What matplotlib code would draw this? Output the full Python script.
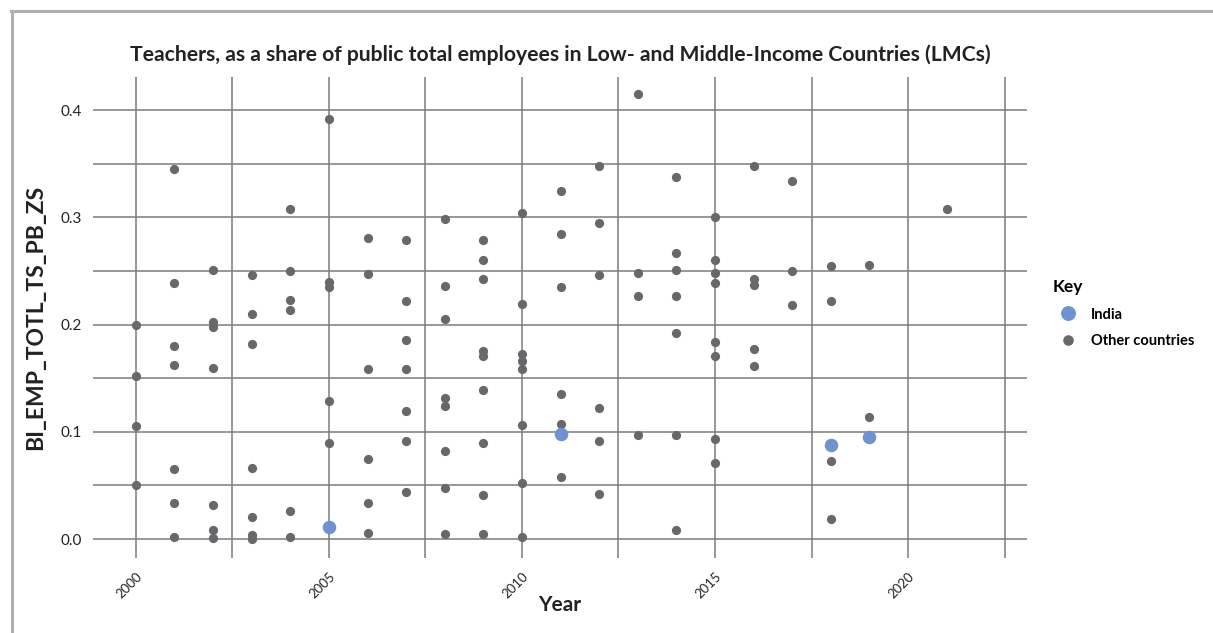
import matplotlib
matplotlib.use("Agg")
import matplotlib.pyplot as plt
from matplotlib.lines import Line2D
from matplotlib.ticker import MultipleLocator

plt.rcParams['font.family'] = ['Lato', 'DejaVu Sans']

# ---- data ----
other_years = (
    [2000] * 4 + [2001] * 7 + [2002] * 7 + [2003] * 7 + [2004] * 6 + [2005] * 5 +
    [2006] * 6 + [2007] * 7 + [2008] * 8 + [2009] * 9 + [2010] * 8 + [2011] * 6 +
    [2012] * 6 + [2013] * 4 + [2014] * 7 + [2015] * 8 + [2016] * 5 + [2017] * 3 +
    [2018] * 4 + [2019] * 2 + [2021] * 1
)
other_values = [
    0.200, 0.152, 0.105, 0.050,
    0.345, 0.239, 0.180, 0.162, 0.065, 0.034, 0.002,
    0.251, 0.202, 0.198, 0.160, 0.032, 0.008, 0.001,
    0.246, 0.210, 0.182, 0.066, 0.021, 0.004, 0.000,
    0.308, 0.250, 0.223, 0.214, 0.026, 0.002,
    0.392, 0.240, 0.235, 0.129, 0.090,
    0.281, 0.247, 0.159, 0.075, 0.034, 0.006,
    0.279, 0.222, 0.186, 0.159, 0.119, 0.091, 0.044,
    0.299, 0.236, 0.205, 0.132, 0.124, 0.082, 0.048, 0.005,
    0.279, 0.260, 0.243, 0.175, 0.171, 0.139, 0.090, 0.041, 0.005,
    0.304, 0.219, 0.173, 0.166, 0.159, 0.106, 0.052, 0.002,
    0.325, 0.285, 0.235, 0.135, 0.107, 0.058,
    0.348, 0.295, 0.246, 0.122, 0.091, 0.042,
    0.415, 0.248, 0.227, 0.097,
    0.338, 0.267, 0.251, 0.227, 0.192, 0.097, 0.008,
    0.300, 0.260, 0.248, 0.239, 0.184, 0.171, 0.093, 0.071,
    0.348, 0.243, 0.237, 0.177, 0.161,
    0.334, 0.250, 0.218,
    0.255, 0.222, 0.073, 0.019,
    0.256, 0.114,
    0.308,
]
india_years = [2005, 2011, 2018, 2019]
india_values = [0.011, 0.098, 0.088, 0.095]

title = "Teachers, as a share of public total employees in Low- and Middle-Income Countries (LMCs)"
x_label = "Year"
y_label = "BI_EMP_TOTL_TS_PB_ZS"
legend_title = "Key"
series_names = ["India", "Other countries"]

grey = "#68686c"
blue = "#6f93d0"
grid_c = "#7c7c7c"

fig = plt.figure(figsize=(12.13, 6.33), dpi=100)
ax = fig.add_axes([93 / 1213, 1 - 558 / 633, (1027 - 93) / 1213, (558 - 77) / 633])

ax.scatter(other_years, other_values, s=44, color=grey, zorder=3, linewidths=0)
ax.scatter(india_years, india_values, s=95, color=blue, zorder=4, linewidths=0)

ax.set_xlim(1998.89, 2023.08)
ax.set_ylim(-0.0177, 0.431)
ax.xaxis.set_major_locator(MultipleLocator(5))
ax.xaxis.set_minor_locator(MultipleLocator(2.5))
ax.yaxis.set_major_locator(MultipleLocator(0.1))
ax.yaxis.set_minor_locator(MultipleLocator(0.05))
ax.xaxis.set_major_formatter(plt.FuncFormatter(lambda v, p: f"{int(v)}" if 2000 <= v <= 2020 else ""))
ax.yaxis.set_major_formatter(plt.FuncFormatter(lambda v, p: f"{v:.1f}" if v >= -0.001 else ""))
ax.grid(True, which="both", color=grid_c, linewidth=1.1)
ax.set_axisbelow(True)
for s in ax.spines.values():
    s.set_visible(False)
ax.tick_params(which="both", length=0)
ax.tick_params(axis="y", labelsize=11, labelcolor="#222222", pad=8)
ax.tick_params(axis="x", labelsize=9.5, labelcolor="#222222", pad=9)
for lab in ax.get_xticklabels():
    lab.set_rotation(45)
    lab.set_ha("right")
    lab.set_rotation_mode("anchor")

ax.set_xlabel(x_label, fontsize=15, fontweight="bold", color="#222222", labelpad=-4)
ax.set_ylabel(y_label, fontsize=16.5, fontweight="bold", color="#222222", labelpad=10)
fig.text(560 / 1213, 1 - 55 / 633, title, ha="center", va="center",
         fontsize=15.2, fontweight="bold", color="#222222")

handles = [
    Line2D([], [], marker="o", linestyle="", markersize=9.7, color=blue),
    Line2D([], [], marker="o", linestyle="", markersize=6.6, color=grey),
]
leg = fig.legend(handles, series_names, title=legend_title, loc="upper left",
                 bbox_to_anchor=(1040 / 1213, 1 - 266 / 633), frameon=False,
                 prop={"size": 10.5, "weight": "bold"}, handletextpad=0.6,
                 labelspacing=0.85)
leg.get_title().set_fontsize(12.5)
leg.get_title().set_fontweight("bold")
leg._legend_box.align = "left"

# frame lines (top and left)
fig.add_artist(Line2D([11 / 1213, 1], [1 - 11 / 633, 1 - 11 / 633], color="#b0b0b0", lw=2.2,
                      transform=fig.transFigure))
fig.add_artist(Line2D([12 / 1213, 12 / 1213], [0, 1 - 11 / 633], color="#b0b0b0", lw=2.2,
                      transform=fig.transFigure))

fig.savefig("out.png", dpi=100, facecolor="white")
